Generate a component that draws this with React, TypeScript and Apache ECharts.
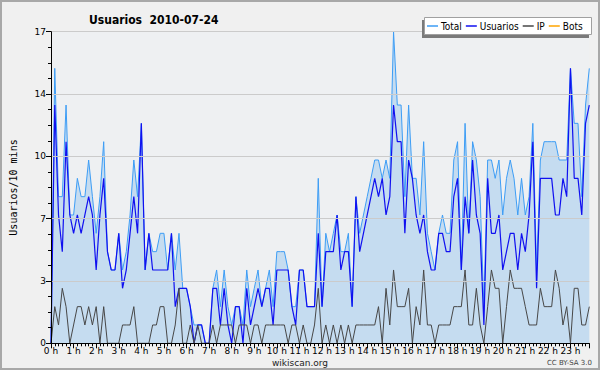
import React, { useEffect, useRef } from "react";
import * as echarts from "echarts";

const TITLE = "Usuarios  2010-07-24";
const SERIES_NAMES = ["Total", "Usuarios", "IP", "Bots"];
const Y_TICKS = [0, 3.4, 6.8, 10.2, 13.6, 17];

const total = [
  0, 15, 8, 8, 13, 7, 7, 9, 8, 8, 10, 8, 6, 8, 11, 5, 4, 4, 6, 4, 5, 7, 10, 8,
  12, 4, 6, 5, 5, 6, 6, 4, 6, 4, 6, 3, 3, 2, 1, 1, 1, 0, 0, 3, 4, 2, 4, 2,
  1, 2, 2, 1, 4, 2, 3, 4, 2, 3, 4, 2, 5, 5, 5, 4, 2, 2, 4, 4, 2, 2, 2, 9,
  2, 6, 5, 6, 7, 5, 5, 6, 2, 8, 6, 7, 8, 9, 10, 10, 9, 10, 9, 17, 13, 13, 8, 13,
  9, 9, 7, 11, 6, 5, 4, 6, 7, 6, 6, 10, 11, 4, 12, 6, 11, 10, 8, 2, 10, 10, 9, 10,
  7, 9, 10, 9, 7, 9, 7, 8, 12, 4, 10, 11, 11, 11, 11, 10, 10, 10, 15, 12, 12, 8, 13, 15,
];

const usuarios = [
  0, 13, 7, 5, 11, 7, 6, 7, 6, 7, 8, 7, 4, 7, 9, 5, 4, 4, 6, 3, 4, 6, 8, 6,
  12, 4, 6, 4, 4, 4, 4, 4, 6, 2, 3, 3, 3, 2, 0, 1, 1, 0, 0, 3, 3, 1, 3, 1,
  0, 2, 2, 0, 3, 1, 2, 3, 2, 3, 3, 1, 4, 4, 4, 4, 2, 1, 4, 4, 2, 2, 2, 6,
  2, 5, 5, 5, 7, 4, 5, 5, 2, 8, 5, 6, 7, 8, 9, 8, 9, 7, 8, 13, 11, 11, 6, 10,
  9, 7, 6, 7, 5, 4, 4, 6, 6, 5, 5, 8, 9, 4, 8, 6, 10, 7, 6, 1, 9, 6, 6, 7,
  4, 5, 6, 6, 4, 6, 5, 7, 11, 3, 9, 9, 9, 9, 7, 7, 9, 8, 15, 9, 9, 7, 12, 13,
];

const ip = [
  0, 2, 1, 3, 2, 0, 1, 2, 2, 1, 2, 1, 2, 0, 2, 0, 0, 0, 0, 1, 1, 1, 2, 0,
  0, 0, 0, 1, 1, 2, 2, 0, 0, 1, 3, 0, 0, 1, 0, 1, 0, 0, 0, 1, 0, 1, 1, 1,
  1, 0, 1, 1, 1, 0, 1, 1, 0, 1, 1, 1, 1, 1, 1, 0, 1, 1, 0, 1, 0, 0, 1, 3,
  0, 1, 0, 1, 0, 1, 0, 1, 0, 1, 1, 1, 1, 1, 1, 2, 0, 3, 1, 4, 2, 2, 2, 3,
  0, 2, 1, 4, 1, 1, 0, 1, 1, 1, 1, 2, 2, 2, 4, 1, 1, 3, 1, 0, 2, 4, 3, 3,
  0, 2, 4, 3, 3, 3, 2, 1, 1, 1, 3, 2, 2, 2, 4, 3, 1, 2, 0, 3, 3, 1, 1, 2,
];

const bots = [
  0, 0, 0, 0, 0, 0, 0, 0, 0, 0, 0, 0, 0, 0, 0, 0, 0, 0, 0, 0, 0, 0, 0, 0,
  0, 0, 0, 0, 0, 0, 0, 0, 0, 0, 0, 0, 0, 0, 0, 0, 0, 0, 0, 0, 0, 0, 0, 0,
  0, 0, 0, 0, 0, 0, 0, 0, 0, 0, 0, 0, 0, 0, 0, 0, 0, 0, 0, 0, 0, 0, 0, 0,
  0, 0, 0, 0, 0, 0, 0, 0, 0, 0, 0, 0, 0, 0, 0, 0, 0, 0, 0, 0, 0, 0, 0, 0,
  0, 0, 0, 0, 0, 0, 0, 0, 0, 0, 0, 0, 0, 0, 0, 0, 0, 0, 0, 0, 0, 0, 0, 0,
  0, 0, 0, 0, 0, 0, 0, 0, 0, 0, 0, 0, 0, 0, 0, 0, 0, 0, 0, 0, 0, 0, 0, 0,
];

const toPairs = (arr: number[]) => arr.map((v, i) => [i, v]);

export default function App() {
  const ref = useRef<HTMLDivElement>(null);
  useEffect(() => {
    if (!ref.current) return;
    const chart = echarts.init(ref.current, null, { renderer: "svg" });
    const font = "DejaVu Sans";
    chart.setOption({
      animation: false,
      backgroundColor: "#f0f0f0",
      title: {
        text: TITLE,
        left: 84,
        top: 9,
        textStyle: { fontFamily: "DejaVu Sans Condensed", fontWeight: "bold", fontSize: 12, color: "#000" },
      },
      legend: {
        data: SERIES_NAMES,
        left: 427,
        top: 21,
        icon: "rect",
        itemWidth: 11,
        itemHeight: 1.5,
        itemGap: 4,
        padding: 0,
        textStyle: { fontFamily: "DejaVu Sans Condensed", fontSize: 10, color: "#000", padding: [0, 0, 0, -2] },
        z: 10,
      },
      graphic: [
        { type: "rect", shape: { x: 1, y: 1, width: 598, height: 368 }, style: { fill: "none", stroke: "#a8a8a8", lineWidth: 2 }, silent: true },
        { type: "rect", shape: { x: 422, y: 20, width: 167, height: 18 }, style: { fill: "#7a7a7a" }, z: 8, silent: true },
        { type: "rect", shape: { x: 424.5, y: 17.5, width: 167, height: 17 }, style: { fill: "#ffffff", stroke: "#a0a0a0", lineWidth: 1 }, z: 9, silent: true },
        { type: "text", x: 300, y: 363, style: { text: "wikiscan.org", fontFamily: font, fontSize: 9, fill: "#222", align: "center", verticalAlign: "middle" } },
        { type: "text", x: 592, y: 363, style: { text: "CC BY-SA 3.0", fontFamily: font, fontSize: 7, fill: "#444", align: "right", verticalAlign: "middle" } },
      ],
      grid: {
        left: 46.5,
        right: 10.7,
        top: 31.7,
        bottom: 26.7,
        show: true,
        backgroundColor: "#eef0f2",
        borderWidth: 0,
      },
      xAxis: {
        type: "value",
        min: 0,
        max: 143,
        interval: 6,
        z: 5,
        axisLine: { show: true, lineStyle: { color: "#000", width: 1 } },
        axisTick: { show: true, length: 5, lineStyle: { color: "#000" } },
        minorTick: { show: true, splitNumber: 6, length: 3, lineStyle: { color: "#000" } },
        splitLine: { show: false },
        axisLabel: {
          formatter: (v: number) => `${v / 6} h`,
          fontFamily: font,
          fontSize: 9,
          color: "#000",
          margin: 3,
        },
      },
      yAxis: {
        type: "value",
        min: 0,
        max: Y_TICKS[Y_TICKS.length - 1],
        interval: Y_TICKS[1],
        z: 5,
        name: "Usuarios/10 mins",
        nameLocation: "middle",
        nameGap: 33,
        nameTextStyle: { fontFamily: "DejaVu Sans Mono", fontSize: 10, color: "#000" },
        axisLine: { show: true, lineStyle: { color: "#000", width: 1 } },
        axisTick: { show: true, length: 5, lineStyle: { color: "#000" } },
        minorTick: { show: true, splitNumber: 4, length: 3, lineStyle: { color: "#000" } },
        splitLine: { show: true, lineStyle: { color: "#cbcbcb", width: 1 } },
        axisLabel: {
          formatter: (v: number) => `${Math.round(v)}`,
          fontFamily: font,
          fontSize: 9,
          color: "#000",
          margin: 5,
          padding: [0, 0, 3, 0],
        },
      },
      series: [
        {
          name: "Total",
          type: "line",
          data: toPairs(total),
          showSymbol: false,
          symbol: "none",
          lineStyle: { color: "#3d9df5", width: 1 },
          itemStyle: { color: "#3d9df5" },
          areaStyle: { color: "#c5dcf0", opacity: 1 },
          z: 2,
        },
        {
          name: "Usuarios",
          type: "line",
          data: toPairs(usuarios),
          showSymbol: false,
          symbol: "none",
          lineStyle: { color: "#1010f0", width: 1.2 },
          itemStyle: { color: "#1010f0" },
          z: 3,
        },
        {
          name: "IP",
          type: "line",
          data: toPairs(ip),
          showSymbol: false,
          symbol: "none",
          lineStyle: { color: "#474747", width: 1 },
          itemStyle: { color: "#474747" },
          z: 4,
        },
        {
          name: "Bots",
          type: "line",
          data: toPairs(bots),
          showSymbol: false,
          symbol: "none",
          lineStyle: { color: "#ffa500", width: 1 },
          itemStyle: { color: "#ffa500" },
          z: 1,
        },
      ],
    });
    return () => chart.dispose();
  }, []);
  return (
    <div
      ref={ref}
      style={{ position: "fixed", left: 0, top: 0, width: 600, height: 370 }}
    />
  );
}
